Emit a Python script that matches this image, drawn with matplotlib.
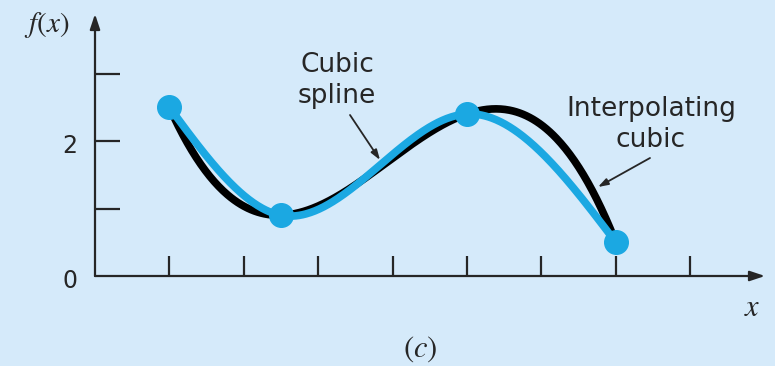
import numpy as np
import matplotlib
matplotlib.use("Agg")
import matplotlib.pyplot as plt

# data points
x_pts = [1.0, 2.5, 5.0, 7.0]
y_pts = [2.5, 0.9, 2.4, 0.5]
x_ticks = [1, 2, 3, 4, 5, 6, 7, 8]
y_ticks = [1, 2, 3]
y_tick_labels = {0: "0", 2: "2"}

BG = "#d5eafa"
BLUE = "#1ba8e2"
INK = "#262626"


def natural_spline(xp, yp, xs):
    xp = np.asarray(xp, float)
    yp = np.asarray(yp, float)
    n = len(xp)
    h = np.diff(xp)
    A = np.zeros((n, n))
    r = np.zeros(n)
    A[0, 0] = 1
    A[-1, -1] = 1
    for i in range(1, n - 1):
        A[i, i - 1] = h[i - 1]
        A[i, i] = 2 * (h[i - 1] + h[i])
        A[i, i + 1] = h[i]
        r[i] = 6 * ((yp[i + 1] - yp[i]) / h[i] - (yp[i] - yp[i - 1]) / h[i - 1])
    M = np.linalg.solve(A, r)
    out = np.empty_like(xs)
    for k, x in enumerate(xs):
        i = min(max(np.searchsorted(xp, x) - 1, 0), n - 2)
        t0 = xp[i + 1] - x
        t1 = x - xp[i]
        out[k] = (M[i] * t0 ** 3 + M[i + 1] * t1 ** 3) / (6 * h[i]) \
            + (yp[i] / h[i] - M[i] * h[i] / 6) * t0 \
            + (yp[i + 1] / h[i] - M[i + 1] * h[i] / 6) * t1
    return out


xs = np.linspace(x_pts[0], x_pts[-1], 400)
poly = np.polyfit(x_pts, y_pts, 3)
y_poly = np.polyval(poly, xs)
y_spl = natural_spline(x_pts, y_pts, xs)

fig = plt.figure(figsize=(7.75, 3.66), dpi=100, facecolor=BG)
ax = fig.add_axes([0, 0, 1, 1])
ax.set_facecolor(BG)
ax.set_xlim(-95 / 74.4, 680 / 74.4)
ax.set_ylim(-90 / 67.5, 276 / 67.5)
ax.axis("off")

px = 1 / 74.4  # data units per pixel in x
py = 1 / 67.5  # data units per pixel in y

# axes with arrows
ax.annotate("", xy=(0, 262 * py), xytext=(0, 0),
            arrowprops=dict(arrowstyle="-|>,head_length=0.9,head_width=0.3",
                            color=INK, lw=1.6, shrinkA=0, shrinkB=0))
ax.annotate("", xy=(670 * px, 0), xytext=(0, 0),
            arrowprops=dict(arrowstyle="-|>,head_length=0.9,head_width=0.3",
                            color=INK, lw=1.6, shrinkA=0, shrinkB=0))

for t in x_ticks:
    ax.plot([t, t], [0, 20 * py], color=INK, lw=1.6, solid_capstyle="butt")
for t in y_ticks:
    ax.plot([0, 25 * px], [t, t], color=INK, lw=1.6, solid_capstyle="butt")
for v, s in y_tick_labels.items():
    ax.text(-25 * px, v - 5 * py, s, ha="center", va="center", fontsize=17,
            family="DejaVu Sans", color=INK)

# curves
ax.plot(xs, y_poly, color="black", lw=5.5, solid_capstyle="round", zorder=3)
ax.plot(xs, y_spl, color=BLUE, lw=5.5, solid_capstyle="round", zorder=4)
ax.plot(x_pts, y_pts, "o", color=BLUE, ms=17, zorder=5)

# axis labels and caption
ax.text(-48 * px, 251 * py, r"$f(x)$", ha="center", va="center", fontsize=21,
        math_fontfamily="stix", color=INK)
ax.text(657 * px, -31 * py, r"$x$", ha="center", va="center", fontsize=22,
        math_fontfamily="stix", color=INK)
ax.text(325 * px, -73 * py, r"$(c)$", ha="center", va="center", fontsize=22,
        math_fontfamily="stix", color=INK)

# annotations
ax.text(242 * px, (276 - 72) * py, "Cubic", ha="center", va="baseline",
        fontsize=19, family="DejaVu Sans", color=INK)
ax.text(242 * px, (276 - 103) * py, "spline", ha="center", va="baseline",
        fontsize=19, family="DejaVu Sans", color=INK)
ax.text(556 * px, (276 - 116) * py, "Interpolating", ha="center", va="baseline",
        fontsize=19, family="DejaVu Sans", color=INK)
ax.text(556 * px, (276 - 147) * py, "cubic", ha="center", va="baseline",
        fontsize=19, family="DejaVu Sans", color=INK)

ax.annotate("", xy=(285 * px, 116 * py), xytext=(255 * px, 161 * py),
            arrowprops=dict(arrowstyle="-|>,head_length=0.6,head_width=0.2",
                            color=INK, lw=1.3, shrinkA=0, shrinkB=0))
ax.annotate("", xy=(503 * px, 89 * py), xytext=(555 * px, 118 * py),
            arrowprops=dict(arrowstyle="-|>,head_length=0.6,head_width=0.2",
                            color=INK, lw=1.3, shrinkA=0, shrinkB=0))

fig.savefig("out.png", dpi=100, facecolor=BG)
